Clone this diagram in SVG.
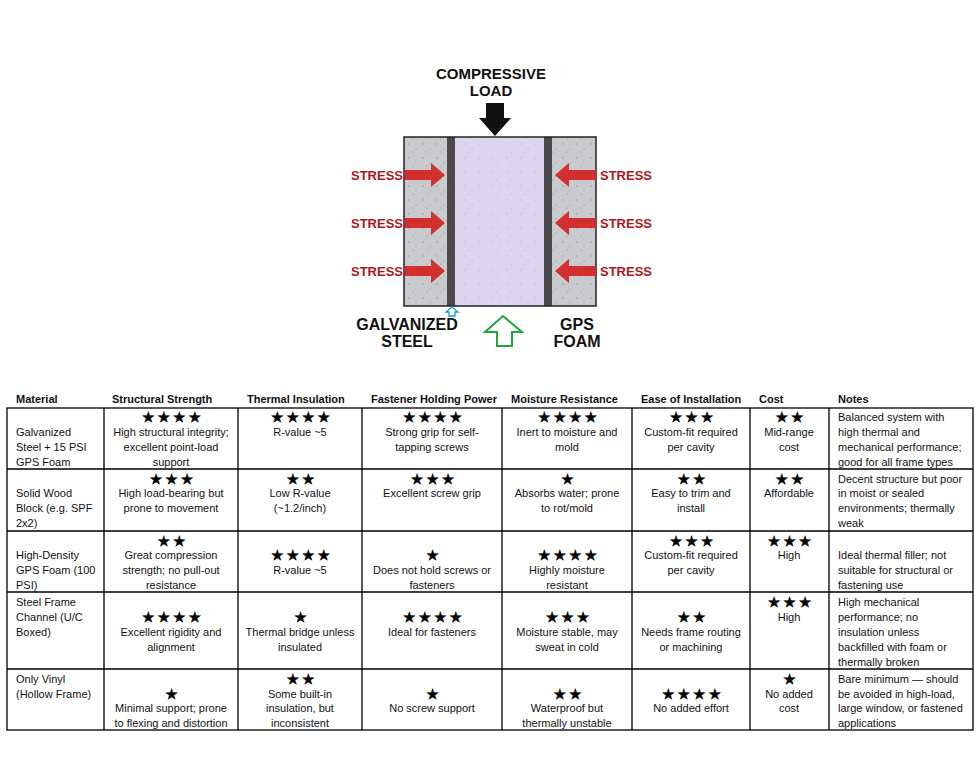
<svg xmlns="http://www.w3.org/2000/svg" width="980" height="759" viewBox="0 0 980 759">
<defs>
<style>
.lbl{font-family:"Liberation Sans",Arial,sans-serif;font-weight:bold;font-size:15px;fill:#111;text-anchor:middle}
.st{font-family:"Liberation Sans",Arial,sans-serif;font-weight:bold;font-size:13px;fill:#b0161c}
.h{font-family:"Liberation Sans",Arial,sans-serif;font-weight:bold;font-size:11px;fill:#111}
.t{font-family:"Liberation Sans",Arial,sans-serif;font-size:11px;fill:#111;text-anchor:middle}
.l{font-family:"Liberation Sans",Arial,sans-serif;font-size:11px;fill:#111}
.s{font-family:"DejaVu Sans",sans-serif;font-size:14px;fill:#000;stroke:#000;stroke-width:0.6;text-anchor:middle;letter-spacing:3px}
.ra{fill:#d32f2f}
.grid{stroke:#000;stroke-width:1.3;fill:none}
</style>
<pattern id="spk" width="14" height="14" patternUnits="userSpaceOnUse">
<circle cx="3" cy="4" r="0.8" fill="#9a9aa0"/><circle cx="10" cy="9" r="0.7" fill="#a8a8ae"/><circle cx="7" cy="12" r="0.6" fill="#8f8f95"/>
</pattern>
<pattern id="spk2" width="14" height="14" patternUnits="userSpaceOnUse">
<circle cx="3" cy="4" r="0.8" fill="#c4b8dc"/><circle cx="10" cy="9" r="0.7" fill="#cabfe0"/><circle cx="7" cy="12" r="0.6" fill="#bdb0d6"/>
</pattern>
</defs>
<rect width="980" height="759" fill="#fff"/>
<g id="illustration">
<rect x="404" y="137" width="43" height="169" fill="#c9cacd"/>
<rect x="404" y="137" width="43" height="169" fill="url(#spk)"/>
<rect x="447" y="137" width="8" height="169" fill="#4a4a4d"/>
<rect x="455" y="137" width="89" height="169" fill="#ddd4ee"/>
<rect x="455" y="137" width="89" height="169" fill="url(#spk2)"/>
<rect x="544" y="137" width="8" height="169" fill="#4a4a4d"/>
<rect x="552" y="137" width="44" height="169" fill="#c9cacd"/>
<rect x="552" y="137" width="44" height="169" fill="url(#spk)"/>
<rect x="404" y="137" width="192" height="169" fill="none" stroke="#222" stroke-width="1.5"/>
<text class="lbl" x="491" y="79">COMPRESSIVE</text>
<text class="lbl" x="491" y="96">LOAD</text>
<polygon points="486,103 504,103 504,118 511,118 495,136 479,118 486,118" fill="#111"/>
</g>
<g id="connectors">
<g id="stress-left">
<polygon class="ra" points="405,170 431,170 431,163 445,175 431,187 431,180 405,180"/>
<polygon class="ra" points="405,218 431,218 431,211 445,223 431,235 431,228 405,228"/>
<polygon class="ra" points="405,266 431,266 431,259 445,271 431,283 431,276 405,276"/>
</g>
<g id="stress-right">
<polygon class="ra" points="596,170 569,170 569,163 555,175 569,187 569,180 596,180"/>
<polygon class="ra" points="596,218 569,218 569,211 555,223 569,235 569,228 596,228"/>
<polygon class="ra" points="596,266 569,266 569,259 555,271 569,283 569,276 596,276"/>
</g>
<polygon points="449,316 455,316 455,312 458,312 452,307 446,312 449,312" fill="none" stroke="#1a9ad6" stroke-width="1.3"/>
<polygon points="497,346 512,346 512,332 522,332 503,316 485,332 497,332" fill="none" stroke="#1fa53a" stroke-width="2"/>
</g>
<g id="stress-labels">
<text class="st" x="351" y="180">STRESS</text>
<text class="st" x="351" y="228">STRESS</text>
<text class="st" x="351" y="276">STRESS</text>
<text class="st" x="600" y="180">STRESS</text>
<text class="st" x="600" y="228">STRESS</text>
<text class="st" x="600" y="276">STRESS</text>
</g>
<g id="bottom-labels">
<text class="lbl" x="407" y="330" style="font-size:16px">GALVANIZED</text>
<text class="lbl" x="407" y="347" style="font-size:16px">STEEL</text>
<text class="lbl" x="577" y="330" style="font-size:16px">GPS</text>
<text class="lbl" x="577" y="347" style="font-size:16px">FOAM</text>
</g>
<g id="table">
<text class="h" x="16" y="403">Material</text>
<text class="h" x="112" y="403">Structural Strength</text>
<text class="h" x="247" y="403">Thermal Insulation</text>
<text class="h" x="371" y="403">Fastener Holding Power</text>
<text class="h" x="511" y="403">Moisture Resistance</text>
<text class="h" x="641" y="403">Ease of Installation</text>
<text class="h" x="759" y="403">Cost</text>
<text class="h" x="838" y="403">Notes</text>
<rect class="grid" x="7" y="408" width="966" height="322" stroke-width="2"/>
<path class="grid" d="M7 469H973M7 531H973M7 592H973M7 669H973M104 408V730M238 408V730M362 408V730M502 408V730M632 408V730M750 408V730M829 408V730"/>
<text class="l" x="16" y="436">Galvanized</text><text class="l" x="16" y="451">Steel + 15 PSI</text><text class="l" x="16" y="466">GPS Foam</text>
<text class="s" x="173" y="422">★★★★</text><text class="t" x="171" y="436">High structural integrity;</text><text class="t" x="171" y="451">excellent point-load</text><text class="t" x="171" y="466">support</text>
<text class="s" x="302" y="422">★★★★</text><text class="t" x="300" y="436">R-value ~5</text>
<text class="s" x="434" y="422">★★★★</text><text class="t" x="432" y="436">Strong grip for self-</text><text class="t" x="432" y="451">tapping screws</text>
<text class="s" x="569" y="422">★★★★</text><text class="t" x="567" y="436">Inert to moisture and</text><text class="t" x="567" y="451">mold</text>
<text class="s" x="693" y="422">★★★</text><text class="t" x="691" y="436">Custom-fit required</text><text class="t" x="691" y="451">per cavity</text>
<text class="s" x="791" y="422">★★</text><text class="t" x="789" y="436">Mid-range</text><text class="t" x="789" y="451">cost</text>
<text class="l" x="838" y="421">Balanced system with</text><text class="l" x="838" y="436">high thermal and</text><text class="l" x="838" y="451">mechanical performance;</text><text class="l" x="838" y="466">good for all frame types</text>
<text class="l" x="16" y="497">Solid Wood</text><text class="l" x="16" y="512">Block (e.g. SPF</text><text class="l" x="16" y="527">2x2)</text>
<text class="s" x="173" y="484">★★★</text><text class="t" x="171" y="497">High load-bearing but</text><text class="t" x="171" y="512">prone to movement</text>
<text class="s" x="302" y="484">★★</text><text class="t" x="300" y="497">Low R-value</text><text class="t" x="300" y="512">(~1.2/inch)</text>
<text class="s" x="434" y="484">★★★</text><text class="t" x="432" y="497">Excellent screw grip</text>
<text class="s" x="569" y="484">★</text><text class="t" x="567" y="497">Absorbs water; prone</text><text class="t" x="567" y="512">to rot/mold</text>
<text class="s" x="693" y="484">★★</text><text class="t" x="691" y="497">Easy to trim and</text><text class="t" x="691" y="512">install</text>
<text class="s" x="791" y="484">★★</text><text class="t" x="789" y="497">Affordable</text>
<text class="l" x="838" y="483">Decent structure but poor</text><text class="l" x="838" y="497">in moist or sealed</text><text class="l" x="838" y="512">environments; thermally</text><text class="l" x="838" y="527">weak</text>
<text class="l" x="16" y="559">High-Density</text><text class="l" x="16" y="574">GPS Foam (100</text><text class="l" x="16" y="589">PSI)</text>
<text class="s" x="173" y="546">★★</text><text class="t" x="171" y="559">Great compression</text><text class="t" x="171" y="574">strength; no pull-out</text><text class="t" x="171" y="589">resistance</text>
<text class="s" x="302" y="560">★★★★</text><text class="t" x="300" y="574">R-value ~5</text>
<text class="s" x="434" y="560">★</text><text class="t" x="432" y="574">Does not hold screws or</text><text class="t" x="432" y="589">fasteners</text>
<text class="s" x="569" y="560">★★★★</text><text class="t" x="567" y="574">Highly moisture</text><text class="t" x="567" y="589">resistant</text>
<text class="s" x="693" y="546">★★★</text><text class="t" x="691" y="559">Custom-fit required</text><text class="t" x="691" y="574">per cavity</text>
<text class="s" x="791" y="546">★★★</text><text class="t" x="789" y="559">High</text>
<text class="l" x="838" y="559">Ideal thermal filler; not</text><text class="l" x="838" y="574">suitable for structural or</text><text class="l" x="838" y="589">fastening use</text>
<text class="l" x="16" y="606">Steel Frame</text><text class="l" x="16" y="621">Channel (U/C</text><text class="l" x="16" y="636">Boxed)</text>
<text class="s" x="173" y="622">★★★★</text><text class="t" x="171" y="636">Excellent rigidity and</text><text class="t" x="171" y="651">alignment</text>
<text class="s" x="302" y="622">★</text><text class="t" x="300" y="636">Thermal bridge unless</text><text class="t" x="300" y="651">insulated</text>
<text class="s" x="434" y="622">★★★★</text><text class="t" x="432" y="636">Ideal for fasteners</text>
<text class="s" x="569" y="622">★★★</text><text class="t" x="567" y="636">Moisture stable, may</text><text class="t" x="567" y="651">sweat in cold</text>
<text class="s" x="693" y="622">★★</text><text class="t" x="691" y="636">Needs frame routing</text><text class="t" x="691" y="651">or machining</text>
<text class="s" x="791" y="607">★★★</text><text class="t" x="789" y="621">High</text>
<text class="l" x="838" y="606">High mechanical</text><text class="l" x="838" y="621">performance; no</text><text class="l" x="838" y="636">insulation unless</text><text class="l" x="838" y="651">backfilled with foam or</text><text class="l" x="838" y="666">thermally broken</text>
<text class="l" x="16" y="683">Only Vinyl</text><text class="l" x="16" y="698">(Hollow Frame)</text>
<text class="s" x="173" y="699">★</text><text class="t" x="171" y="712">Minimal support; prone</text><text class="t" x="171" y="727">to flexing and distortion</text>
<text class="s" x="302" y="684">★★</text><text class="t" x="300" y="698">Some built-in</text><text class="t" x="300" y="712">insulation, but</text><text class="t" x="300" y="727">inconsistent</text>
<text class="s" x="434" y="699">★</text><text class="t" x="432" y="712">No screw support</text>
<text class="s" x="569" y="699">★★</text><text class="t" x="567" y="712">Waterproof but</text><text class="t" x="567" y="727">thermally unstable</text>
<text class="s" x="693" y="699">★★★★</text><text class="t" x="691" y="712">No added effort</text>
<text class="s" x="791" y="684">★</text><text class="t" x="789" y="698">No added</text><text class="t" x="789" y="712">cost</text>
<text class="l" x="838" y="683">Bare minimum — should</text><text class="l" x="838" y="698">be avoided in high-load,</text><text class="l" x="838" y="712">large window, or fastened</text><text class="l" x="838" y="727">applications</text>
</g>
</svg>
